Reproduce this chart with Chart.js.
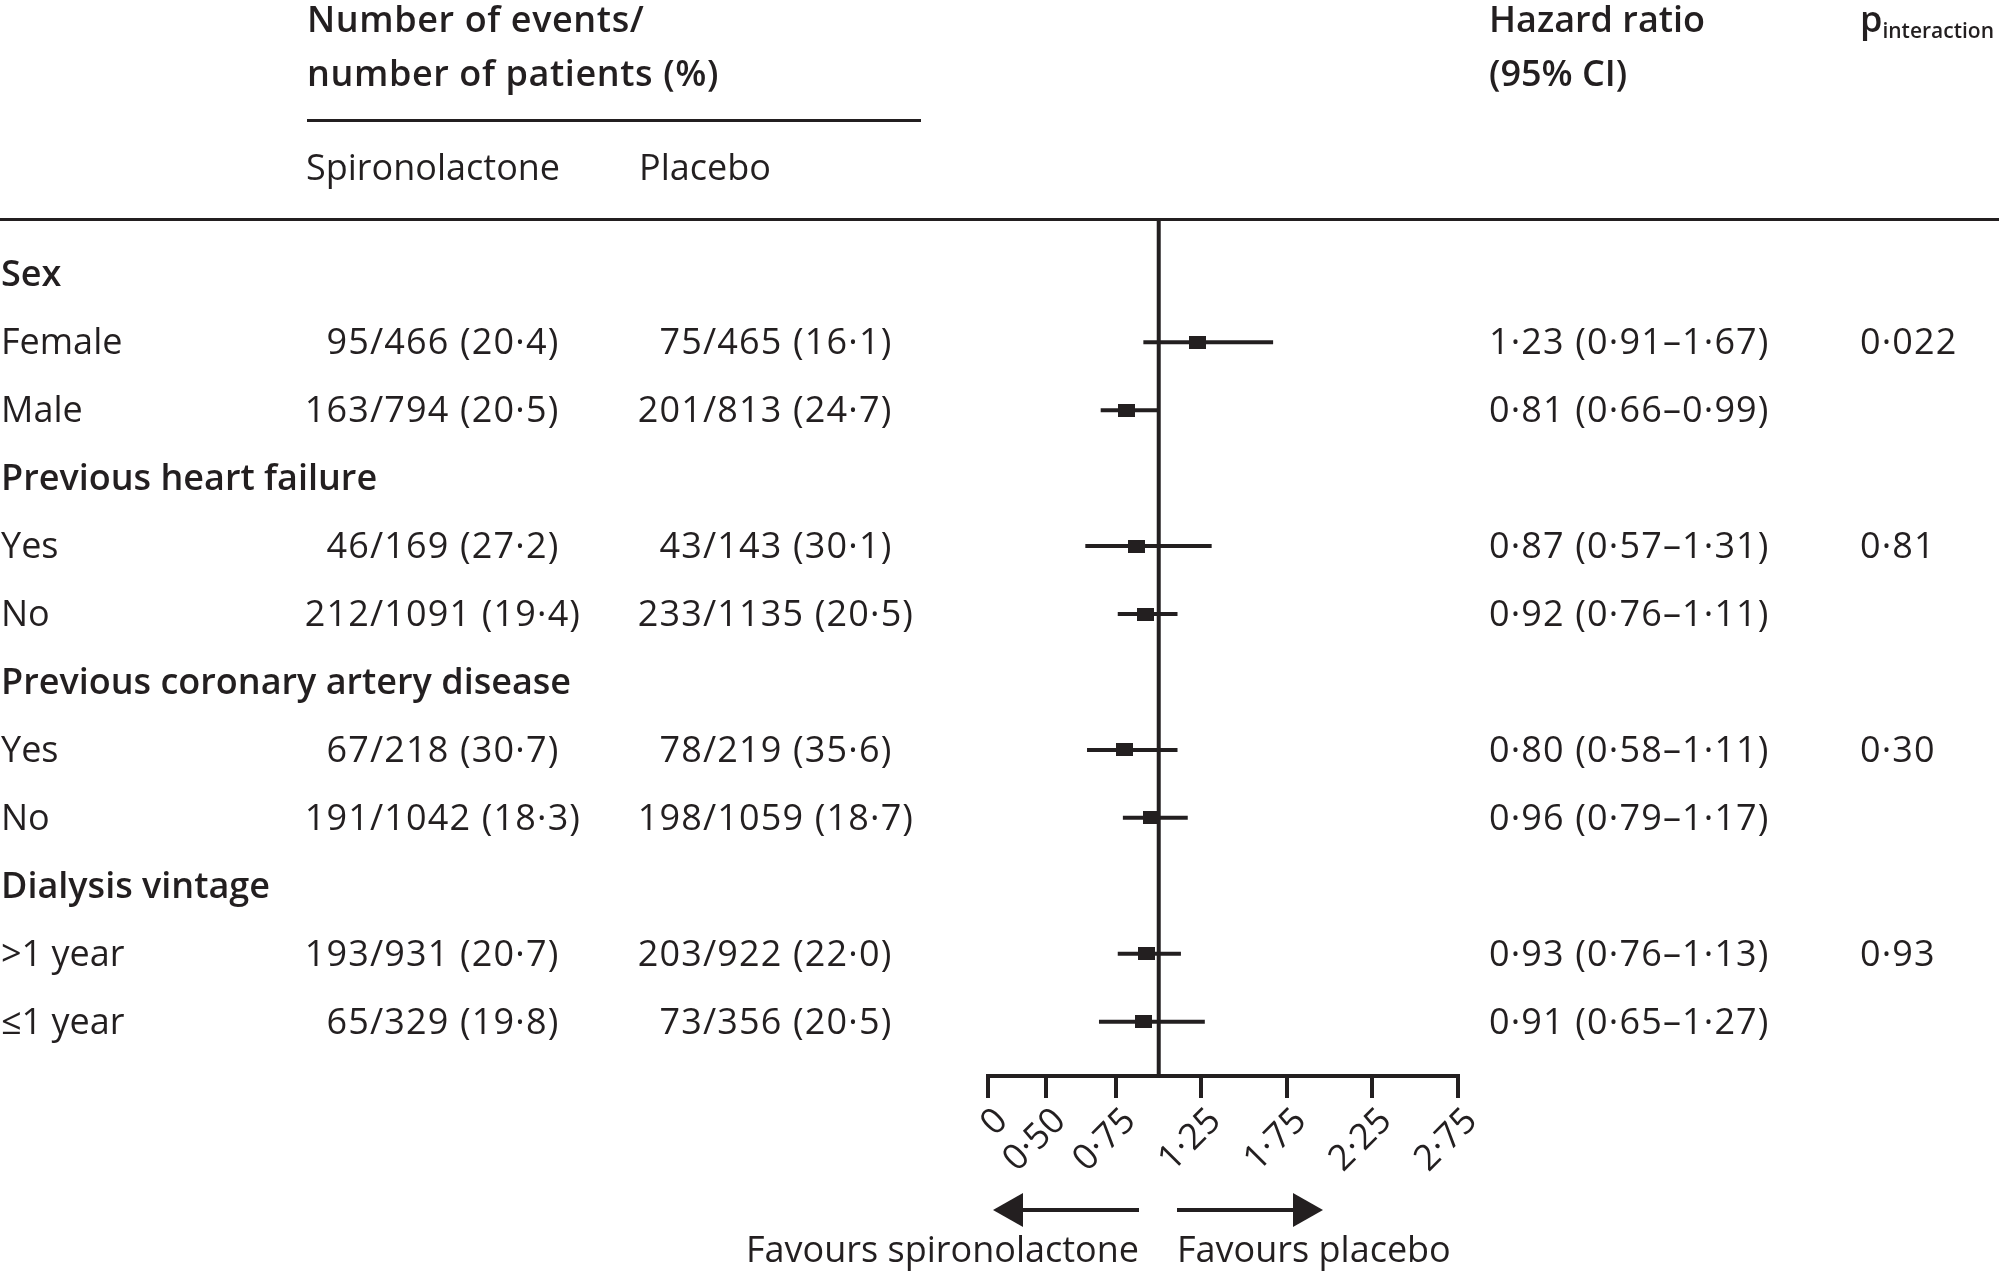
<!DOCTYPE html>
<html>
<head>
<meta charset="utf-8">
<title>Subgroup forest plot</title>
<script src="https://cdn.jsdelivr.net/npm/chart.js@4.4.1/dist/chart.umd.min.js"></script>
<style>
    html, body { margin: 0; padding: 0; background: #fff; }
    #wrap { position: relative; width: 1999px; height: 1275px; overflow: hidden; }
    #forest { position: absolute; left: 0; top: 0; }
    .t { position: absolute; line-height: 0; white-space: nowrap; font-family: 'Open Sans', sans-serif; font-size: 36px; color: #231f20; }
    .b { font-weight: 600; }
    .n { letter-spacing: 1.15px; }
    .w { letter-spacing: 0.6px; }
    .sub { font-size: 21px; vertical-align: -6px; }
</style>
</head>
<body>
<div id="wrap">
    <canvas id="forest" width="1999" height="1275"></canvas>
    <div id="labels"></div>
</div>
<script>
// Subgroups and their numbers
const groups = ['Sex', 'Previous heart failure', 'Previous coronary artery disease', 'Dialysis vintage'];
const subgroups = ['Female', 'Male', 'Yes', 'No', 'Yes', 'No', '>1 year', '≤1 year'];
const spiroEvents = [95, 163, 46, 212, 67, 191, 193, 65];
const spiroPatients = [466, 794, 169, 1091, 218, 1042, 931, 329];
const spiroPercent = [20.4, 20.5, 27.2, 19.4, 30.7, 18.3, 20.7, 19.8];
const placeboEvents = [75, 201, 43, 233, 78, 198, 203, 73];
const placeboPatients = [465, 813, 143, 1135, 219, 1059, 922, 356];
const placeboPercent = [16.1, 24.7, 30.1, 20.5, 35.6, 18.7, 22.0, 20.5];
const hazardRatio = [1.23, 0.81, 0.87, 0.92, 0.80, 0.96, 0.93, 0.91];
const ciLower = [0.91, 0.66, 0.57, 0.76, 0.58, 0.79, 0.76, 0.65];
const ciUpper = [1.67, 0.99, 1.31, 1.11, 1.11, 1.17, 1.13, 1.27];
const pInteraction = ['0·022', '', '0·81', '', '0·30', '', '0·93', ''];

// x axis ticks (the 0·50 tick sits where the original figure put it)
const tickValues = [0, 0.34, 0.75, 1.25, 1.75, 2.25, 2.75];
const tickLabels = ['0', '0·50', '0·75', '1·25', '1·75', '2·25', '2·75'];

const ink = '#231f20';
const groupRow = g => g * 3;
const subRow = i => Math.floor(i / 2) * 3 + 1 + (i % 2);
const fmt = (v, d) => v.toFixed(d).replace('.', '·');

// square marker
const square = document.createElement('canvas');
square.width = 17;
square.height = 13;
const sctx = square.getContext('2d');
sctx.fillStyle = ink;
sctx.fillRect(0, 0, 17, 13);

const datasets = [
    {
        data: hazardRatio.map((v, i) => ({ x: v, y: subRow(i) })),
        pointStyle: square,
        pointRadius: 8,
        showLine: false
    },
    {
        data: [{ x: 1, y: -0.8 }, { x: 1, y: 11.8 }],
        showLine: true,
        borderColor: ink,
        borderWidth: 4,
        pointRadius: 0
    }
];
hazardRatio.forEach((v, i) => {
    datasets.push({
        data: [{ x: ciLower[i], y: subRow(i) }, { x: ciUpper[i], y: subRow(i) }],
        showLine: true,
        borderColor: ink,
        borderWidth: 4,
        pointRadius: 0
    });
});

function arrow(c, x0, x1, y) {
    const dir = Math.sign(x1 - x0);
    const head = 30;
    const base = x1 - dir * head;
    c.fillRect(Math.min(x0, base), y - 2, Math.abs(base - x0), 4);
    c.beginPath();
    c.moveTo(x1, y);
    c.lineTo(base, y - 17);
    c.lineTo(base, y + 17);
    c.closePath();
    c.fill();
}

const decor = {
    id: 'decor',
    afterDraw(chart) {
        const c = chart.ctx;
        c.save();
        c.fillStyle = ink;
        // table rules
        c.fillRect(0, chart.chartArea.top - 2, chart.width, 3);
        c.fillRect(307, 119, 614, 3);
        // favours arrows
        arrow(c, 1139, 993, 1210);
        arrow(c, 1177, 1323, 1210);
        c.restore();
    }
};

const chart = new Chart(document.getElementById('forest'), {
    type: 'scatter',
    data: { datasets: datasets },
    plugins: [decor],
    options: {
        responsive: false,
        animation: false,
        devicePixelRatio: 1,
        layout: {
            padding: { left: 988, right: 1999 - 1457.5, top: 220, bottom: 0 }
        },
        plugins: {
            legend: { display: false },
            tooltip: { enabled: false }
        },
        scales: {
            x: {
                type: 'linear',
                min: 0,
                max: 2.75,
                afterBuildTicks: scale => {
                    scale.ticks = tickValues.map(v => ({ value: v }));
                },
                afterFit: scale => {
                    scale.height = 199;
                },
                ticks: {
                    autoSkip: false,
                    minRotation: 45,
                    maxRotation: 45,
                    padding: 2,
                    labelOffset: 14,
                    color: ink,
                    font: { family: 'Open Sans', size: 36 },
                    callback: (v, i) => tickLabels[i]
                },
                grid: {
                    drawOnChartArea: false,
                    drawTicks: true,
                    tickLength: 22,
                    lineWidth: 4,
                    color: ink
                },
                border: { display: true, width: 4, color: ink }
            },
            y: {
                type: 'linear',
                min: -0.8,
                max: 11.8,
                reverse: true,
                display: false
            }
        }
    }
});

// table text, placed on the same rows as the chart
const box = document.getElementById('labels');
const yScale = chart.scales.y;

function put(html, x, y, opts) {
    opts = opts || {};
    const el = document.createElement('div');
    el.className = 't' + (opts.bold ? ' b' : '') + (opts.num ? ' n' : '') + (opts.wide ? ' w' : '');
    el.innerHTML = html;
    el.style.top = (y - 1) + 'px';
    if (opts.right) {
        el.style.right = (1999 - x) + 'px';
    } else {
        el.style.left = x + 'px';
    }
    box.appendChild(el);
}

// headers
put('Number of events/', 307, 20, { bold: true, wide: true });
put('number of patients (%)', 307, 74, { bold: true, wide: true });
put('Spironolactone', 306, 168);
put('Placebo', 639, 168);
put('Hazard ratio', 1489, 20, { bold: true });
put('(95% CI)', 1489, 74, { bold: true });
put('p<span class="sub">interaction</span>', 1860, 20, { bold: true });

groups.forEach((g, k) => {
    put(g, 1, yScale.getPixelForValue(groupRow(k)), { bold: true });
});

subgroups.forEach((s, i) => {
    const y = yScale.getPixelForValue(subRow(i));
    put(s, 1, y);
    put(String(spiroEvents[i]), 370, y, { right: true, num: true });
    put('/' + spiroPatients[i] + ' (' + fmt(spiroPercent[i], 1) + ')', 370, y, { num: true });
    put(String(placeboEvents[i]), 703, y, { right: true, num: true });
    put('/' + placeboPatients[i] + ' (' + fmt(placeboPercent[i], 1) + ')', 703, y, { num: true });
    put(fmt(hazardRatio[i], 2) + ' (' + fmt(ciLower[i], 2) + '–' + fmt(ciUpper[i], 2) + ')', 1489, y, { num: true });
    if (pInteraction[i]) put(pInteraction[i], 1860, y, { num: true });
});

put('Favours spironolactone', 746, 1250);
put('Favours placebo', 1177, 1250);
</script>
</body>
</html>
